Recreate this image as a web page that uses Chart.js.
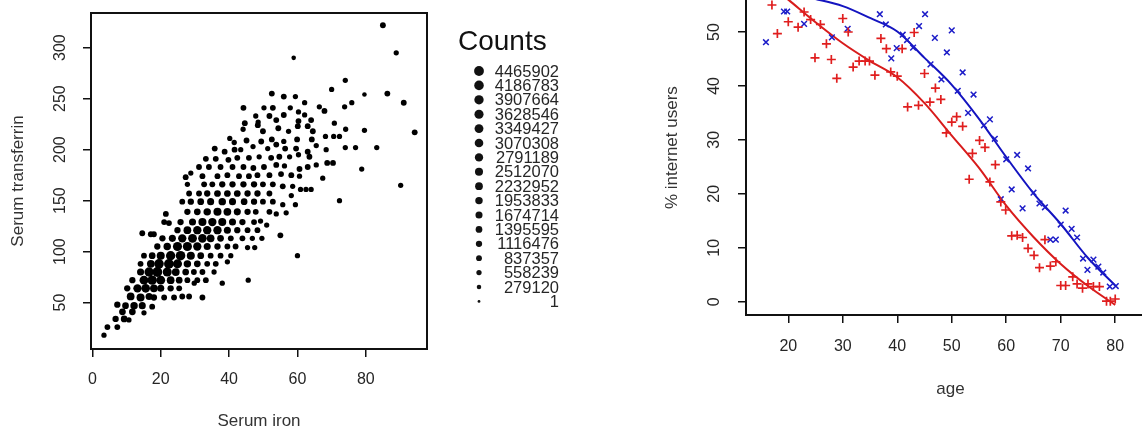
<!DOCTYPE html>
<html>
<head>
<meta charset="utf-8">
<script src="https://cdn.jsdelivr.net/npm/chart.js@4.4.0/dist/chart.umd.min.js"></script>
<style>
  html, body { margin: 0; padding: 0; background: #fff; overflow: hidden; }
  #wrap { position: relative; width: 1142px; height: 430px; overflow: hidden; background: #fff; }
  #left { position: absolute; left: 0; top: 0; width: 600px; height: 430px; }
  #right { position: absolute; left: 660px; top: -26px; width: 502px; height: 456px; }
</style>
</head>
<body>
<div id="wrap">
  <canvas id="left" width="600" height="430"></canvas>
  <canvas id="right" width="502" height="456"></canvas>
</div>
<script>
'use strict'

// ---- left panel: hexbin of serum iron vs transferrin ----
let countLevels = [1, 279120, 558239, 837357, 1116476, 1395595, 1674714, 1953833, 2232952,
    2512070, 2791189, 3070308, 3349427, 3628546, 3907664, 4186783, 4465902];

// [serum iron, serum transferrin, index into countLevels]
let hexCells = [
    [3.4,18,2],
    [4.4,26,3],[7.3,26,3],
    [6.8,34,4],[9.3,34,5],[10.7,33,2],
    [8.8,41,5],[11.7,41,5],[15.1,40,2],
    [7.3,48,4],[9.7,47,5],[12.2,47,7],[14.6,47,6],[17.5,46,3],
    [11.2,56,8],[14.1,55,9],[16.6,56,6],[18,55,4],[21,55,3],[23.9,55,3],[26.3,56,3],[28.3,56,3],[32.2,55,3],
    [10.2,64,4],[13.2,64,10],[15.6,64,11],[18,64,8],[20,64,6],[22.9,64,4],[25.4,64,3],[29.8,69,2],[38,69,2],
    [11.7,72,4],[15.1,72,12],[17.5,72,14],[20,72,12],[22.9,72,8],[25.4,72,5],[27.8,72,3],[30.7,72,3],[33.2,72,3],[45.6,72,2],
    [14.1,80,6],[16.6,80,14],[19,80,16],[21.9,80,13],[24.4,80,8],[27.3,80,5],[29.7,80,3],[32.2,80,3],[35.6,80,2],
    [14.1,88,3],[17.1,88,8],[19.5,88,15],[22.4,88,16],[24.9,88,13],[27.8,88,7],[30.7,88,5],[33.6,88,3],[36.1,88,3],[39.5,90,2],
    [15.1,96,3],[17.5,96,5],[20,96,9],[22.9,96,14],[25.8,96,15],[28.8,96,9],[31.7,96,5],[34.6,96,3],[37.5,96,3],[40.5,96,2],[60,96,2],
    [19,105,4],[21.9,105,7],[24.9,105,13],[27.8,105,13],[30.7,105,10],[33.6,105,6],[36.6,105,4],[39.5,105,3],[41.9,105,3],[45.4,104,2],[47.5,104,2],
    [20.5,113,4],[23.4,113,6],[26.3,113,10],[29.3,113,12],[32.2,113,11],[34.6,113,8],[37.5,113,5],[40.5,113,3],[43.9,113,3],[46.8,113,2],[49.6,113,2],
    [14.6,118,3],[17.1,117,3],[18,117,3],[24.9,121,4],[27.8,121,8],[30.7,121,10],[33.6,121,10],[36.6,121,10],[39.5,121,6],[42.4,121,4],[45.4,121,3],[48.3,121,3],[55,116,3],
    [21,129,3],[22.4,128,3],[25.8,129,4],[29.3,129,6],[32.2,129,9],[35.1,129,10],[38,129,9],[41,129,6],[43.9,129,4],[47.3,129,3],[49.2,130,2],[51,126,2],
    [21.5,137,3],[27.8,139,4],[30.7,139,5],[33.6,139,7],[36.6,139,9],[39.5,139,8],[42.4,139,6],[45.4,139,4],[47.8,139,3],[51.8,139,3],[53.8,137,2],[56.7,138,2],
    [26.3,149,3],[28.8,149,4],[31.7,149,5],[34.6,149,6],[38,149,7],[41,149,6],[44.4,149,5],[47.3,149,4],[49.9,149,3],[52.8,149,3],[55.7,146,2],[59.4,146,2],[72.3,150,2],
    [28.3,157,3],[31.2,157,3],[33.6,157,4],[36.6,157,5],[39.5,157,5],[42.4,157,5],[45.4,157,4],[48.3,157,4],[51.8,157,3],[58.2,155,2],
    [27.8,166,2],[32.7,166,3],[35.1,166,3],[38,166,4],[41,166,4],[44.2,166,4],[47.3,166,4],[49.9,166,3],[52.8,166,3],[55.7,164,3],[58.6,164,2],
    [60.9,161,2],[62.5,161,2],[64,161,2],[90.2,165,2],
    [27.3,173,3],[28.8,177,2],[32.2,174,3],[36.6,174,3],[39.5,175,3],[42.9,174,3],[45.8,174,3],[48.3,175,3],[51.8,175,3],[55.2,176,3],[58.2,175,3],[60.6,174,2],[67.4,172,2],
    [31.2,183,3],[34.1,183,3],[37.5,183,3],[41,183,3],[44.2,183,3],[47.1,182,3],[50.2,183,3],[53.8,185,3],[56.2,184,2],[60.6,181,3],[63,183,3],[65.5,185,2],[68.7,187,3],[70.4,187,3],[78.8,181,2],
    [33.2,191,3],[36.1,191,3],[39.8,190,3],[42.4,192,3],[45.8,192,3],[48.8,193,2],[52.3,192,3],[54.7,193,3],[57.7,193,2],[60.3,195,2],[63.5,193,3],
    [35.8,201,3],[38.7,198,3],[41.6,200,3],[43.4,200,2],[47,203,2],[51.3,201,2],[53.8,205,3],[56.4,201,3],[59.6,201,3],[63,198,3],[65.5,204,2],[68.4,200,2],[74,202,2],[77,202,2],[83.2,202,2],
    [40.2,211,2],[41.5,207,2],[45.1,209,3],[49.4,208,3],[52.5,210,3],[56,208,2],[59.9,210,3],[64.2,210,3],[68.2,213,2],[70.6,213,2],[72.3,213,2],
    [44.1,220,2],[48.4,224,3],[49.9,218,3],[54.4,221,3],[57.4,218,2],[60.1,223,3],[63,223,3],[64.5,218,3],[74.1,220,2],[79.6,219,2],[94.3,217,3],
    [44.6,226,3],[48.5,227,2],[47.8,233,2],[51.8,233,3],[53.8,229,3],[56,234,3],[60.3,228,3],[62.1,234,2],[64,229,3],[70.8,226,2],
    [44.2,241,3],[50.2,241,2],[52.8,241,3],[57.9,241,2],[60.3,237,2],[66.4,242,2],[67.9,238,3],[73.8,242,2],[75.9,246,2],[91.1,246,3],
    [52.5,255,3],[56,252,3],[59.4,252,2],[62.1,246,2],[70,259,2],[79.6,254,1],[86.3,255,3],
    [74,268,2],[58.9,290,1],[88.9,295,2],[85,322,3]
];

let ironTicks = [0, 20, 40, 60, 80];
let transferrinTicks = [50, 100, 150, 200, 250, 300];

// ---- right panel: % internet users by age ----
let redAge = [17, 18, 20, 21.8, 22.9, 24.1, 24.9, 25.9, 27, 27.9,
    28.9, 30, 31, 31.9, 33, 34.1, 34.9, 35.9, 37, 38,
    38.8, 40, 40.9, 41.9, 43.1, 43.9, 45, 46, 47, 48,
    49, 50, 50.9, 52, 53.2, 53.8, 55.1, 56.1, 57, 58,
    59, 59.9, 61, 62, 63, 64, 65.1, 66.1, 67.1, 68.1,
    69.1, 70, 70.9, 72.2, 73, 74, 75, 76, 77.1, 78.4,
    79.1, 80];
let redPct = [55, 49.7, 51.9, 50.9, 53.7, 52.3, 45.2, 51.4, 47.8, 44.9,
    41.4, 52.5, 50, 43.5, 44.6, 44.6, 44.6, 42, 48.8, 46.9,
    42.6, 41.8, 46.9, 36.1, 49.9, 36.4, 42.3, 37, 39.6, 37.5,
    31.3, 33.3, 34.3, 32.5, 22.7, 27.5, 29.9, 28.6, 22.2, 25.4,
    18.5, 17, 12.2, 12.3, 11.9, 9.9, 8.6, 6.3, 11.5, 6.6,
    7.4, 3, 3, 4.6, 3.3, 2.5, 3.3, 2.8, 2.8, 0.1,
    0.1, 0.5];

let blueAge = [15.9, 19.2, 19.8, 21, 22.9, 28, 30.9, 36.8, 37.9, 38.9,
    39.9, 41, 41.8, 42.9, 44, 45.1, 46.1, 46.9, 48.1, 49.1,
    50, 51.1, 52, 53, 54, 55.9, 57, 57.9, 59, 60,
    61, 62, 63, 64, 65, 66.1, 67.1, 68.1, 69.1, 70,
    70.9, 72, 73, 74.1, 74.9, 76, 76.9, 77.8, 79, 80.1];
let bluePct = [48.1, 53.8, 53.8, 56.5, 51.5, 49, 50.6, 53.3, 51.4, 45.1,
    47, 49.5, 48.5, 47.1, 51.1, 53.3, 44, 48.9, 41.2, 46.2,
    50.3, 39.1, 42.5, 35, 38.4, 32.7, 33.8, 30.2, 19, 26.4,
    20.8, 27.2, 17.3, 24.7, 20.2, 18.2, 17.5, 11.5, 11.5, 14.3,
    16.9, 13.5, 11.9, 8, 5.9, 7.8, 6.5, 5.4, 2.8, 2.9];

// smooth fits
let fitAge = [16, 20, 25, 30, 35, 40, 45, 50, 55, 60, 65, 70, 75, 80];
let redFit = [59.3, 56.0, 51.8, 47.9, 44.6, 41.6, 36.8, 30.8, 24.8, 17.8, 12.0, 7.0, 2.9, -0.6];
let blueFit = [57.4, 57.2, 56.1, 54.8, 52.6, 50.1, 45.2, 40.2, 33.9, 26.8, 20.1, 14.4, 8.1, 3.0];

let ageTicks = [20, 30, 40, 50, 60, 70, 80];
let pctTicks = [0, 10, 20, 30, 40, 50];

Chart.defaults.font.family = '"Liberation Sans", Arial, sans-serif';
Chart.defaults.color = '#262626';

function hexRadius(count) {
    return 1.4 + 3.5 * Math.sqrt(count / countLevels[countLevels.length - 1]);
}

function pairs(xs, ys) {
    return xs.map((x, i) => ({x: x, y: ys[i]}));
}

let boxPlugin = {
    id: 'box',
    afterDraw(chart) {
        let a = chart.chartArea;
        let ctx = chart.ctx;
        ctx.save();
        ctx.strokeStyle = '#111';
        ctx.lineWidth = 2;
        ctx.strokeRect(a.left, a.top, a.right - a.left, a.bottom - a.top);
        ctx.restore();
    }
};

let countsLegend = {
    id: 'countsLegend',
    afterDraw(chart) {
        let ctx = chart.ctx;
        ctx.save();
        ctx.textBaseline = 'middle';
        ctx.textAlign = 'left';
        ctx.fillStyle = '#111';
        ctx.font = '28px "Liberation Sans", Arial, sans-serif';
        ctx.fillText('Counts', 458, 42);
        ctx.font = '16.5px "Liberation Sans", Arial, sans-serif';
        ctx.textAlign = 'right';
        for (let i = 0; i < countLevels.length; i++) {
            let c = countLevels[countLevels.length - 1 - i];
            let y = 71 + i * 14.4;
            ctx.fillStyle = '#111';
            ctx.beginPath();
            ctx.arc(479, y, hexRadius(c), 0, Math.PI * 2);
            ctx.fill();
            ctx.fillStyle = '#262626';
            ctx.fillText(String(c), 559, y + 1);
        }
        ctx.restore();
    }
};

function axis(min, max, tickList, size, title, titlePad, labelPad, isY) {
    let opts = {
        type: 'linear',
        min: min,
        max: max,
        afterBuildTicks: s => { s.ticks = tickList.map(v => ({value: v})) },
        afterFit: s => {
            if (isY) { s.width = size } else { s.height = size }
            s.paddingTop = 0; s.paddingBottom = 0; s.paddingLeft = 0; s.paddingRight = 0;
        },
        border: {display: false},
        grid: {drawOnChartArea: false, tickLength: 8, color: '#111', lineWidth: 1.5},
        ticks: {padding: labelPad, font: {size: 16}, color: '#262626'},
        title: {display: true, text: title, color: '#333', font: {size: 17, lineHeight: 1.2}, padding: titlePad}
    };
    if (isY) {
        opts.ticks.minRotation = 90;
        opts.ticks.maxRotation = 90;
        opts.ticks.crossAlign = 'center';
    }
    return opts;
}

new Chart(document.getElementById('left'), {
    type: 'scatter',
    data: {
        datasets: [{
            data: hexCells.map(c => ({x: c[0], y: c[1], n: countLevels[c[2]]})),
            pointRadius: ctx => ctx.raw ? hexRadius(ctx.raw.n) : 2,
            pointBackgroundColor: '#000',
            pointBorderWidth: 0
        }]
    },
    options: {
        responsive: false,
        animation: false,
        events: [],
        layout: {padding: {top: 13, right: 173, left: 0, bottom: 0}},
        plugins: {legend: {display: false}, tooltip: {enabled: false}},
        scales: {
            x: axis(-0.4, 97.9, ironTicks, 81, 'Serum iron', {top: 0, bottom: -2}, 13, false),
            y: axis(4.5, 334, transferrinTicks, 91, 'Serum transferrin', {top: 8, bottom: 0}, 9, true)
        }
    },
    plugins: [boxPlugin, countsLegend]
});

// the right panel's box runs past the top and right edge of the picture
new Chart(document.getElementById('right'), {
    type: 'scatter',
    data: {
        datasets: [{
            data: pairs(redAge, redPct),
            pointStyle: 'cross',
            pointRadius: 4.5,
            pointBorderWidth: 1.7,
            pointBorderColor: '#e01e1e',
            showLine: false
        }, {
            data: pairs(blueAge, bluePct),
            pointStyle: 'crossRot',
            pointRadius: 4,
            pointBorderWidth: 1.5,
            pointBorderColor: '#1c1cc8',
            showLine: false
        }, {
            data: pairs(fitAge, redFit),
            showLine: true,
            pointRadius: 0,
            borderColor: '#d81c1c',
            borderWidth: 2,
            cubicInterpolationMode: 'monotone'
        }, {
            data: pairs(fitAge, blueFit),
            showLine: true,
            pointRadius: 0,
            borderColor: '#1414c0',
            borderWidth: 2,
            cubicInterpolationMode: 'monotone'
        }]
    },
    options: {
        responsive: false,
        animation: false,
        events: [],
        layout: {padding: {top: 0, right: 7, left: 0, bottom: 0}},
        plugins: {legend: {display: false}, tooltip: {enabled: false}},
        scales: {
            x: axis(12.24, 87.3, ageTicks, 115, 'age', {top: 0, bottom: 30}, 14, false),
            y: axis(-2.47, 59.6, pctTicks, 86, '% internet users', {top: 2, bottom: 0}, 15, true)
        }
    },
    plugins: [boxPlugin]
});
</script>
</body>
</html>
